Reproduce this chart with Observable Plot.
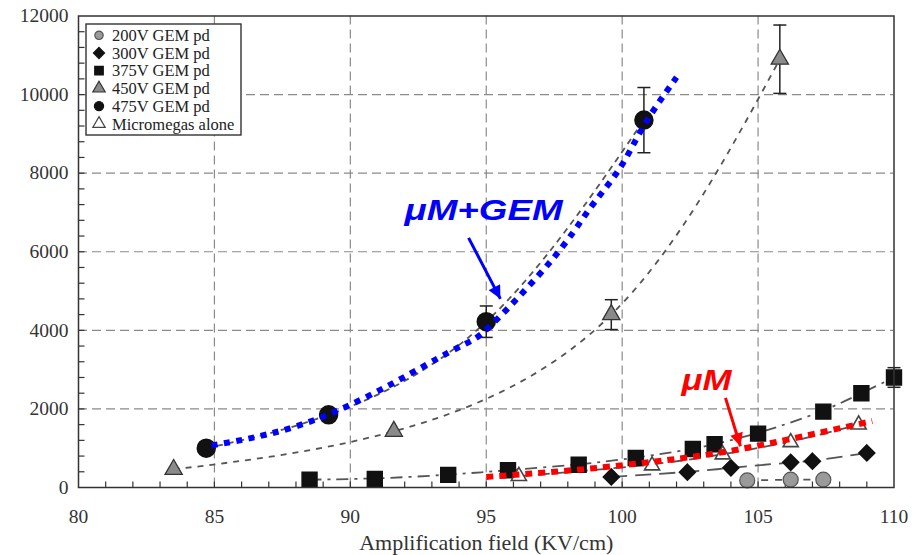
<!DOCTYPE html>
<html>
<head>
<meta charset="utf-8">
<script src="https://cdn.jsdelivr.net/npm/d3@7"></script>
<script src="https://cdn.jsdelivr.net/npm/@observablehq/plot@0.6"></script>
<style>
  body { margin: 0; background: #fff; }
  #chart { position: relative; width: 919px; height: 555px; }
</style>
</head>
<body>
<div id="chart"></div>
<script>
// Gain versus amplification field for several GEM preamplification voltages
const field200 = [104.6, 106.2, 107.4];
const gain200  = [180, 200, 200];

const field300 = [99.6, 102.4, 104.0, 106.2, 107.0, 109.0];
const gain300  = [270, 390, 500, 640, 670, 880];

const field375 = [88.5, 90.9, 93.6, 95.8, 98.4, 100.5, 102.6, 103.4, 105.0, 107.4, 108.8, 110.0];
const gain375  = [200, 220, 320, 440, 580, 750, 980, 1100, 1370, 1930, 2400, 2800];
const err375   = [0, 0, 0, 0, 0, 0, 0, 0, 0, 0, 0, 250];

const field450 = [83.5, 91.6, 99.6, 105.8];
const gain450  = [460, 1430, 4400, 10900];
const err450   = [0, 0, 380, 870];

const field475 = [84.7, 89.2, 95.0, 100.8];
const gain475  = [1000, 1850, 4220, 9350];
const err475   = [0, 0, 400, 830];

const fieldMM = [96.2, 101.1, 103.7, 106.2, 108.7];
const gainMM  = [290, 560, 840, 1150, 1600];

// hand-drawn highlight curves
const gemGuideX = [84.9, 89.2, 93.6, 95.1, 97.4, 98.8, 99.9, 100.8, 102.0];
const gemGuideY = [1070, 1860, 3430, 4080, 5780, 7090, 8110, 9210, 10440];
const muGuideX  = [95.0, 98.5, 101.3, 104.4, 109.2];
const muGuideY  = [270, 460, 670, 985, 1690];

// annotations
const noteLabels = ["μM+GEM", "μM"];
const noteX = [94.9, 103.1];
const noteY = [7050, 2720];
const arrowX1 = [94.35, 103.8];
const arrowY1 = [6354, 2282];
const arrowX2 = [95.52, 104.35];
const arrowY2 = [4802, 1051];

// axes
const xTicks = [80, 85, 90, 95, 100, 105, 110];
const yTicks = [0, 2000, 4000, 6000, 8000, 10000, 12000];
const xMinor = d3.range(81, 110, 1);
const yMinor = d3.range(400, 12000, 400);
const xTitle = "Amplification field (KV/cm)";

const legendLabels = ["200V GEM pd", "300V GEM pd", "375V GEM pd", "450V GEM pd", "475V GEM pd", "Micromegas alone"];

const rows = (xs, ys, es) => xs.map((x, i) => ({x, y: ys[i], e: es ? es[i] : 0}));
const s200 = rows(field200, gain200);
const s300 = rows(field300, gain300);
const s375 = rows(field375, gain375, err375);
const s450 = rows(field450, gain450, err450);
const s475 = rows(field475, gain475, err475);
const sMM  = rows(fieldMM, gainMM);
const gemGuide = rows(gemGuideX, gemGuideY);
const muGuide = rows(muGuideX, muGuideY);
const errRows = [...s375, ...s450, ...s475].filter(d => d.e > 0);
const notes = noteLabels.map((t, i) => ({t, x: noteX[i], y: noteY[i], x1: arrowX1[i], y1: arrowY1[i], x2: arrowX2[i], y2: arrowY2[i]}));

// custom stroke-only symbols (error-bar caps and inward ticks)
const rad = size => Math.sqrt(size / Math.PI);
const hbar = {draw(ctx, size) { const r = rad(size); ctx.moveTo(-r, 0); ctx.lineTo(r, 0); }};
const upTick = {draw(ctx, size) { const r = rad(size); ctx.moveTo(0, 0); ctx.lineTo(0, -r); }};
const rightTick = {draw(ctx, size) { const r = rad(size); ctx.moveTo(0, 0); ctx.lineTo(r, 0); }};

const fitStroke = "#555";
const fit = (data, dash, curve) => Plot.line(data, {
  x: "x", y: "y", curve, stroke: fitStroke, strokeWidth: 1.8,
  strokeDasharray: dash, strokeLinecap: "butt"
});

const serif = "Liberation Serif, DejaVu Serif, serif";
const sans = "Liberation Sans, Arial, sans-serif";

const chart = Plot.plot({
  width: 919,
  height: 555,
  marginLeft: 78,
  marginRight: 25.5,
  marginTop: 15.5,
  marginBottom: 68,
  style: {fontFamily: serif, fontSize: "20px", color: "#333", background: "#fff"},
  x: {domain: [80, 110], label: null},
  y: {domain: [0, 12000], label: null},
  marks: [
    Plot.ruleX(xTicks.slice(1, -1), {stroke: "#8a8a8a", strokeWidth: 1.2, strokeDasharray: "9,5"}),
    Plot.ruleY(yTicks.slice(1, -1), {stroke: "#8a8a8a", strokeWidth: 1.2, strokeDasharray: "9,5"}),
    Plot.dot(xMinor, {x: d => d, y: 0, symbol: upTick, r: 6, stroke: "#333", strokeWidth: 1.2, fill: "none"}),
    Plot.dot(yMinor, {x: 80, y: d => d, symbol: rightTick, r: 6, stroke: "#333", strokeWidth: 1.2, fill: "none"}),
    Plot.axisX({ticks: xTicks, tickSize: 0, tickPadding: 22, tickFormat: d3.format("d"), fontSize: 19.5, fontFamily: serif}),
    Plot.axisY({ticks: yTicks, tickSize: 0, tickPadding: 10, tickFormat: d3.format("d"), fontSize: 19.5, fontFamily: serif}),
    Plot.text([xTitle], {frameAnchor: "bottom", lineAnchor: "middle", dy: 55.5, fontSize: 22, fill: "#333", fontFamily: serif}),

    fit(s475, "6,5", "natural"),
    fit(s450, "6,6", "natural"),
    fit(s375, "12,6,3,6", "basis"),
    fit(s300, "16,8", "basis"),
    fit(s200, "7,7", "basis"),
    fit(sMM, "12,7", "basis"),

    Plot.ruleX(errRows, {x: "x", y1: d => d.y - d.e, y2: d => d.y + d.e, stroke: "#222", strokeWidth: 1.5}),
    Plot.dot(errRows, {x: "x", y: d => d.y - d.e, symbol: hbar, r: 6.5, stroke: "#222", strokeWidth: 1.5, fill: "none"}),
    Plot.dot(errRows, {x: "x", y: d => d.y + d.e, symbol: hbar, r: 6.5, stroke: "#222", strokeWidth: 1.5, fill: "none"}),

    Plot.dot(s200, {x: "x", y: "y", symbol: "circle", r: 7.5, fill: "#9a9a9a", stroke: "#555", strokeWidth: 1.2}),
    Plot.dot(s300, {x: "x", y: "y", symbol: "diamond2", r: 7.2, fill: "#111", stroke: "#111"}),
    Plot.dot(s375, {x: "x", y: "y", symbol: "square", r: 8.4, fill: "#111", stroke: "#111"}),
    Plot.dot(s450, {x: "x", y: "y", symbol: "triangle", r: 6.4, fill: "#8a8a8a", stroke: "#333", strokeWidth: 1.3}),
    Plot.dot(s475, {x: "x", y: "y", symbol: "circle", r: 9, fill: "#111", stroke: "#111"}),
    Plot.dot(sMM, {x: "x", y: "y", symbol: "triangle", r: 5.6, fill: "#fff", stroke: "#444", strokeWidth: 1.6}),

    Plot.line(gemGuide, {x: "x", y: "y", curve: "natural", stroke: "#0000ff", strokeWidth: 6, strokeDasharray: "6,6.5", strokeLinecap: "butt"}),
    Plot.line(muGuide, {x: "x", y: "y", curve: "natural", stroke: "#ff0000", strokeWidth: 6, strokeDasharray: "7,6", strokeLinecap: "butt"}),

    Plot.link(notes.slice(0, 1), {x1: "x1", y1: "y1", x2: "x2", y2: "y2", stroke: "#0000ff", strokeWidth: 3, className: "note-arrow-blue"}),
    Plot.link(notes.slice(1), {x1: "x1", y1: "y1", x2: "x2", y2: "y2", stroke: "#ff0000", strokeWidth: 3, className: "note-arrow-red"}),
    Plot.text(notes.slice(0, 1), {x: "x", y: "y", text: "t", fill: "#0000ff", fontSize: 30, fontWeight: "bold", fontStyle: "italic", fontFamily: sans, className: "note-blue"}),
    Plot.text(notes.slice(1), {x: "x", y: "y", text: "t", fill: "#ff0000", fontSize: 30, fontWeight: "bold", fontStyle: "italic", fontFamily: sans, className: "note-red"}),

    Plot.frame({stroke: "#333", strokeWidth: 1.5})
  ]
});

document.getElementById("chart").appendChild(chart);

// filled arrowheads and widened annotation lettering
const svg = d3.select(chart);
const defs = svg.append("defs");
[["head-blue", "#0000ff"], ["head-red", "#ff0000"]].forEach(([id, color]) => {
  defs.append("marker")
    .attr("id", id).attr("viewBox", "0 0 10 10").attr("refX", 10).attr("refY", 5)
    .attr("markerUnits", "userSpaceOnUse").attr("markerWidth", 17).attr("markerHeight", 13)
    .attr("orient", "auto")
    .append("path").attr("d", "M0,0L10,5L0,10z").attr("fill", color);
});
svg.selectAll(".note-arrow-blue path").attr("marker-end", "url(#head-blue)");
svg.selectAll(".note-arrow-red path").attr("marker-end", "url(#head-red)");
svg.selectAll(".note-blue text").attr("textLength", 158).attr("lengthAdjust", "spacingAndGlyphs");
svg.selectAll(".note-red text").attr("textLength", 50).attr("lengthAdjust", "spacingAndGlyphs");

// legend box in the upper-left corner of the plot
const legendSymbols = [
  {type: d3.symbolCircle, r: 4.2, fill: "#9a9a9a", stroke: "#555"},
  {type: d3.symbolDiamond2, r: 5, fill: "#111", stroke: "#111"},
  {type: d3.symbolSquare, r: 4.8, fill: "#111", stroke: "#111"},
  {type: d3.symbolTriangle, r: 4.6, fill: "#8a8a8a", stroke: "#333"},
  {type: d3.symbolCircle, r: 4.6, fill: "#111", stroke: "#111"},
  {type: d3.symbolTriangle, r: 4.6, fill: "#fff", stroke: "#444"}
];
const legend = d3.select("#chart").append("svg")
  .attr("width", 158).attr("height", 114)
  .style("position", "absolute").style("left", "85px").style("top", "22.5px");
legend.append("rect").attr("x", 1).attr("y", 1).attr("width", 155).attr("height", 111)
  .attr("fill", "#fff").attr("stroke", "#333").attr("stroke-width", 1.4);
const entry = legend.selectAll("g.entry").data(legendLabels).join("g")
  .attr("class", "entry")
  .attr("transform", (d, i) => `translate(0,${12.3 + i * 17.7})`);
entry.append("path")
  .attr("transform", "translate(14,0)")
  .attr("d", (d, i) => d3.symbol(legendSymbols[i].type, Math.PI * legendSymbols[i].r ** 2)())
  .attr("fill", (d, i) => legendSymbols[i].fill)
  .attr("stroke", (d, i) => legendSymbols[i].stroke)
  .attr("stroke-width", 1.2);
entry.append("text")
  .attr("x", 27).attr("dy", "0.35em")
  .attr("font-family", serif).attr("font-size", 16.5).attr("fill", "#222")
  .text(d => d);
</script>
</body>
</html>
